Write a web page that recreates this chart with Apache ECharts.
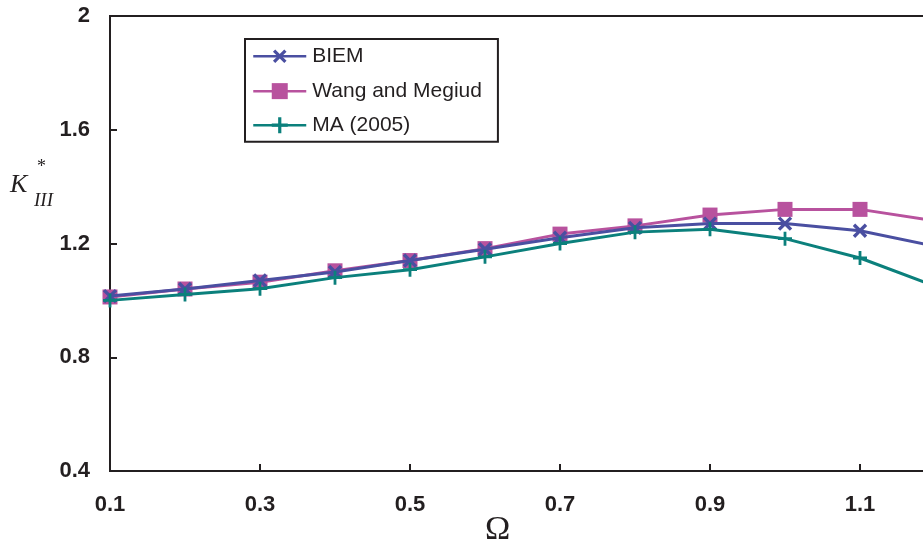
<!DOCTYPE html>
<html>
<head>
<meta charset="utf-8">
<script src="https://cdn.jsdelivr.net/npm/echarts@6/dist/echarts.min.js"></script>
<style>
  html, body { margin: 0; padding: 0; background: #fff; }
  #chart { width: 923px; height: 546px; }
</style>
</head>
<body>
<div id="chart"></div>
<script>
// Normalised frequency Ω
const omega = [0.1, 0.2, 0.3, 0.4, 0.5, 0.6, 0.7, 0.8, 0.9, 1.0, 1.1, 1.2];
// Dynamic stress intensity factor K*_III for each method
const biem      = [1.015, 1.04, 1.07, 1.10, 1.14, 1.18, 1.22, 1.255, 1.27, 1.27, 1.245, 1.19];
const wangMeg   = [1.012, 1.04, 1.064, 1.104, 1.14, 1.182, 1.233, 1.262, 1.30, 1.32, 1.32, 1.28];
const ma2005    = [1.00, 1.021, 1.041, 1.08, 1.108, 1.153, 1.20, 1.24, 1.25, 1.217, 1.149, 1.05];
const seriesNames = ['BIEM', 'Wang and Megiud', 'MA (2005)'];
const yTicks = { min: 0.4, max: 2.0, step: 0.4 };

const ink = '#231f20';
const colors = ['#4a4fa1', '#b8529e', '#0b807c'];
// filled plus-sign outline; rotated 45° it becomes a cross
const plusPath = 'path://M4,0H6V4H10V6H6V10H4V6H0V4H4Z';

const pairs = arr => omega.map((x, i) => [x, arr[i]]);

const chart = echarts.init(document.getElementById('chart'), null, { renderer: 'canvas' });
chart.setOption({
  animation: false,
  backgroundColor: '#fff',
  grid: {
    left: 110, top: 16, height: 455, width: 900,
    outerBoundsMode: 'none',
    containLabel: false,
    show: true, borderColor: ink, borderWidth: 2, backgroundColor: 'transparent'
  },
  legend: {
    orient: 'vertical',
    left: 245, top: 39,
    width: 253,
    padding: [6, 16, 6, 7],
    itemGap: 13,
    itemWidth: 53, itemHeight: 20,
    borderColor: ink, borderWidth: 2,
    backgroundColor: '#fff',
    lineStyle: { width: 2.5 },
    textStyle: { fontFamily: 'Liberation Sans', fontSize: 21, color: ink, padding: [0, 0, 0, 1] },
    data: seriesNames
  },
  xAxis: {
    type: 'value',
    min: 0.1, max: 1.3, interval: 0.2,
    axisLine: { show: true, lineStyle: { color: ink, width: 2 } },
    axisTick: { show: true, inside: true, length: 7, lineStyle: { color: ink, width: 2 } },
    splitLine: { show: false },
    axisLabel: {
      margin: 23, fontFamily: 'Liberation Sans', fontWeight: 'bold', fontSize: 22, color: ink,
      formatter: v => v.toFixed(1)
    }
  },
  yAxis: {
    type: 'value',
    min: yTicks.min, max: yTicks.max, interval: yTicks.step,
    axisLine: { show: true, lineStyle: { color: ink, width: 2 } },
    axisTick: { show: true, inside: true, length: 7, lineStyle: { color: ink, width: 2 } },
    splitLine: { show: false },
    axisLabel: {
      margin: 20, fontFamily: 'Liberation Sans', fontWeight: 'bold', fontSize: 22, color: ink,
      formatter: v => String(+v.toFixed(1))
    }
  },
  series: [
    {
      name: seriesNames[0], type: 'line', data: pairs(biem), z: 3,
      symbol: plusPath, symbolSize: 17, symbolRotate: 45, showAllSymbol: true,
      lineStyle: { color: colors[0], width: 3 },
      itemStyle: { color: colors[0] }
    },
    {
      name: seriesNames[1], type: 'line', data: pairs(wangMeg), z: 2,
      symbol: 'rect', symbolSize: 15, showAllSymbol: true,
      lineStyle: { color: colors[1], width: 3 },
      itemStyle: { color: colors[1] }
    },
    {
      name: seriesNames[2], type: 'line', data: pairs(ma2005), z: 4,
      symbol: plusPath, symbolSize: 14, showAllSymbol: true,
      lineStyle: { color: colors[2], width: 3 },
      itemStyle: { color: colors[2] }
    }
  ],
  graphic: [
    { type: 'text', left: 10, top: 172, style: { text: 'K', font: 'italic 26px "Liberation Serif"', fill: ink } },
    { type: 'text', left: 37, top: 158, style: { text: '*', font: '18px "Liberation Serif"', fill: ink } },
    { type: 'text', left: 34, top: 191, style: { text: 'III', font: 'italic 19px "Liberation Serif"', fill: ink } },
    { type: 'text', left: 485, top: 513, style: { text: 'Ω', font: '34px "Liberation Serif"', fill: ink } }
  ]
});
</script>
</body>
</html>
